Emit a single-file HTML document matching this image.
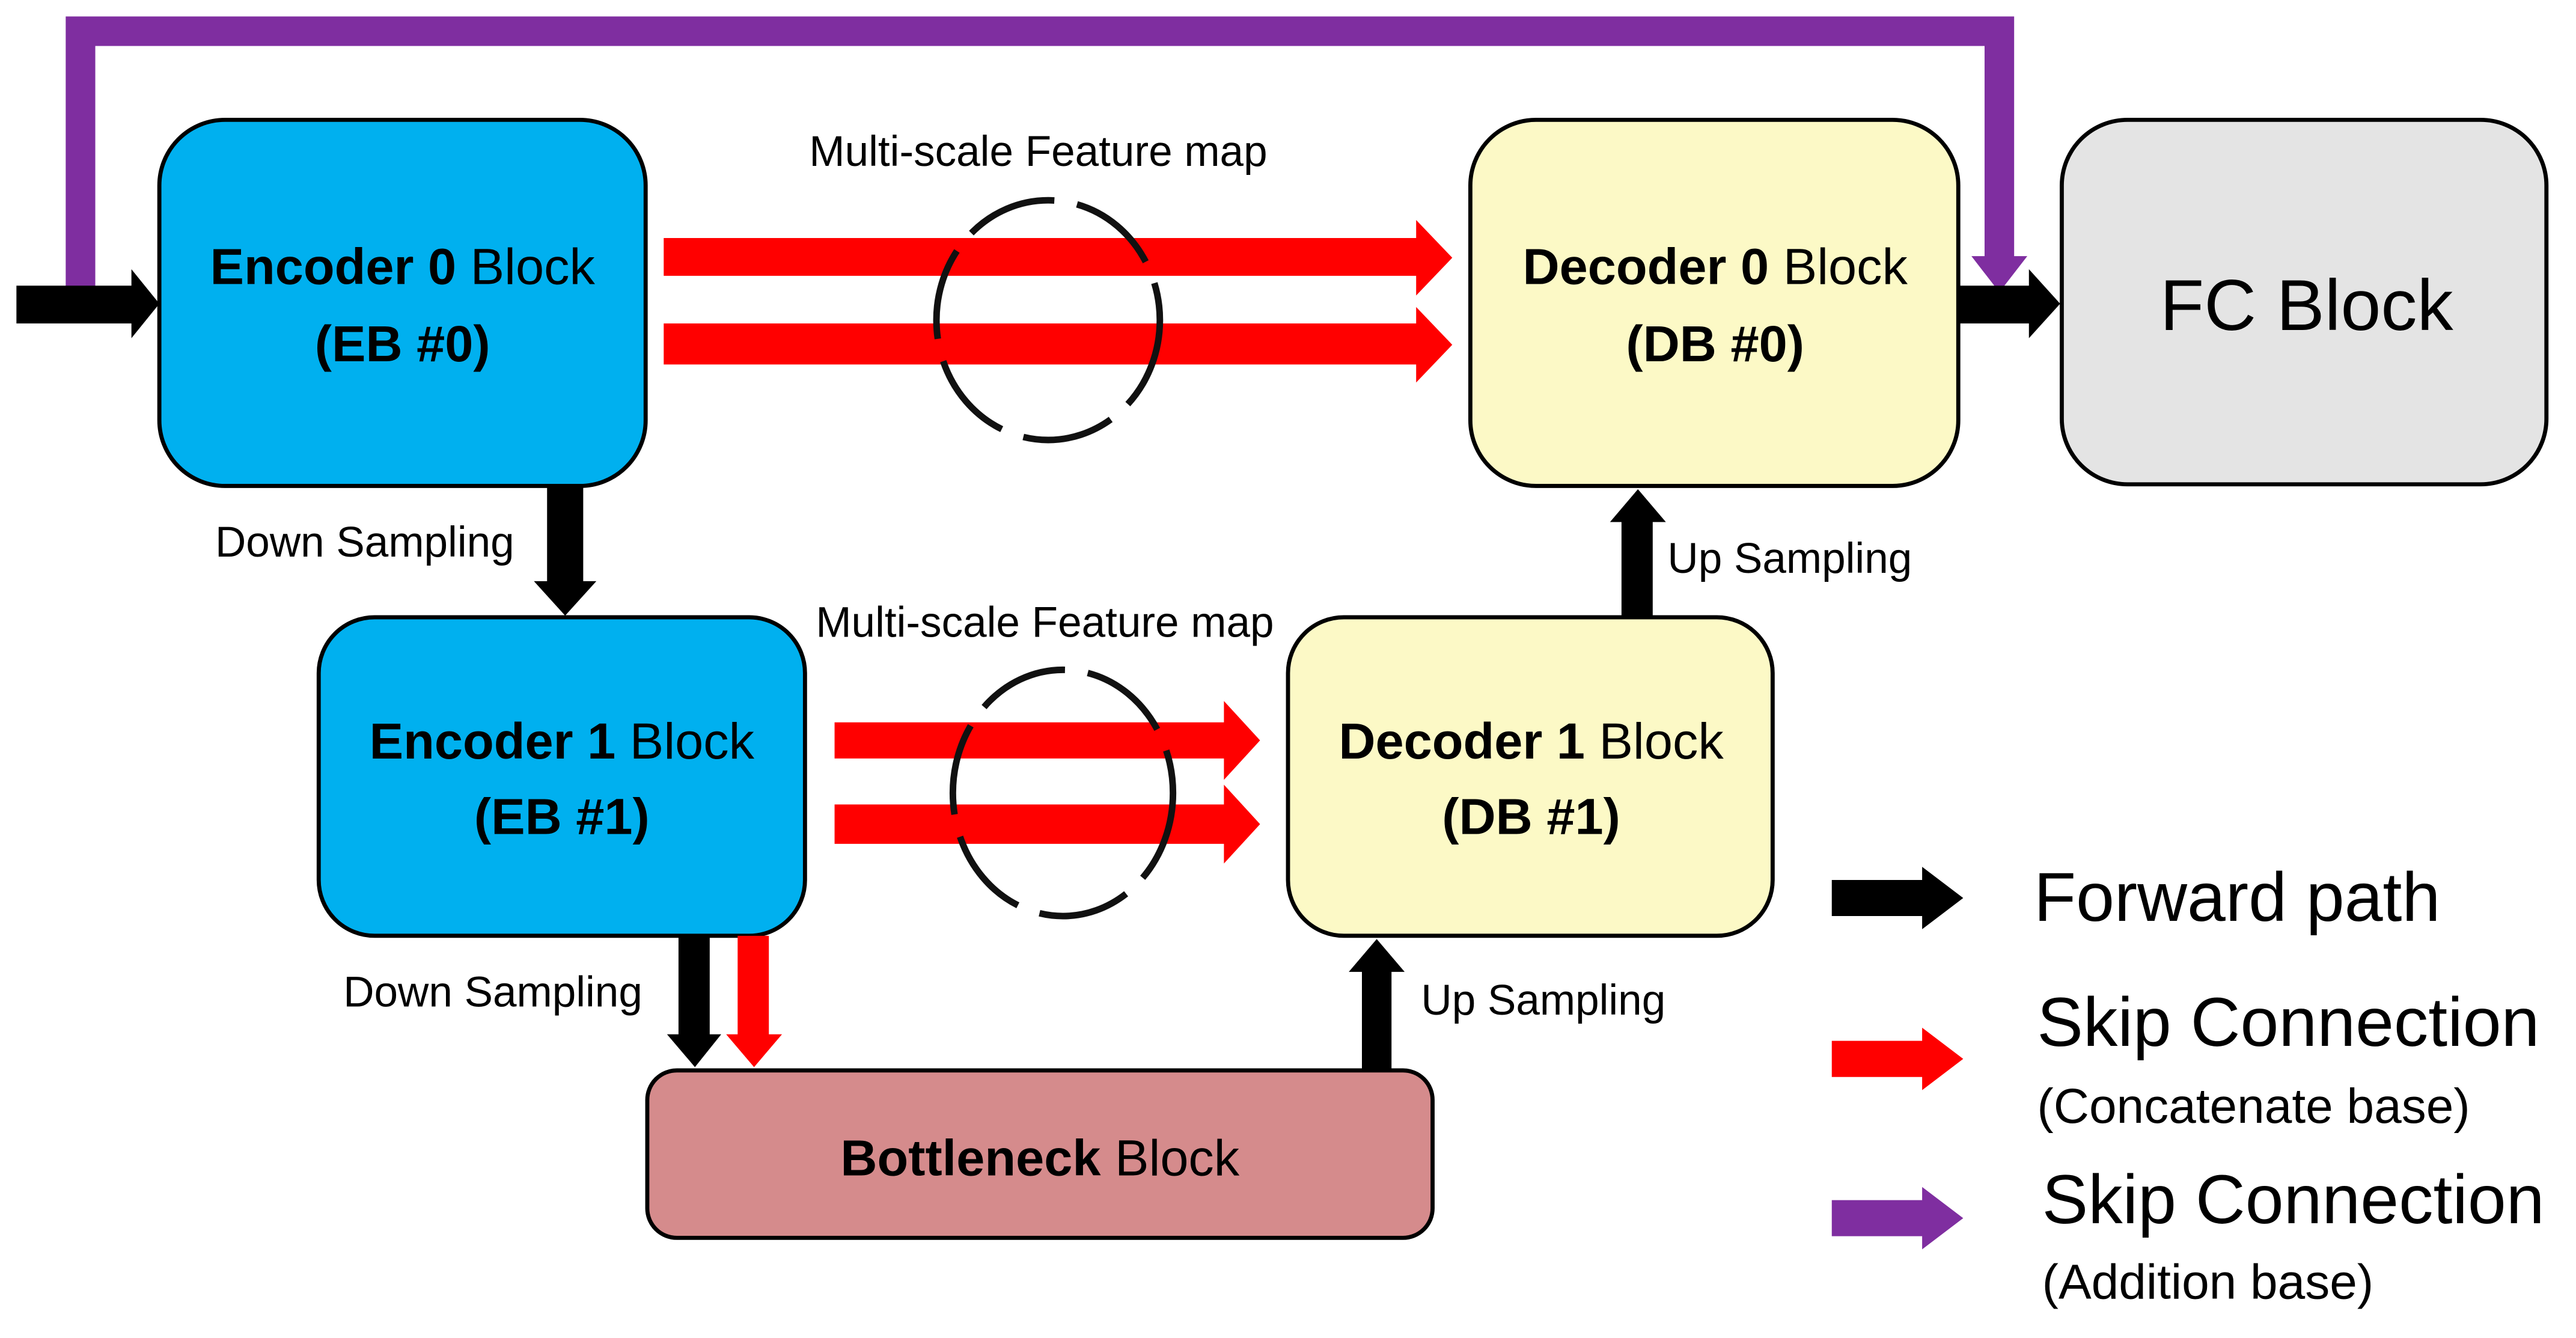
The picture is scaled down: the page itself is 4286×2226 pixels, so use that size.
<!DOCTYPE html>
<html><head><meta charset="utf-8">
<style>
html,body{margin:0;padding:0;background:#fff;}
svg{display:block;}
text{font-family:"Liberation Sans Narrow","Liberation Sans",sans-serif;fill:#000;}
.b{font-weight:bold;}
</style></head>
<body>
<svg width="4286" height="2226" viewBox="0 0 1568 815" preserveAspectRatio="none" xmlns="http://www.w3.org/2000/svg">
<rect x="0" y="0" width="1568" height="815" fill="#fff"/>
<path d="M40,178 L40,10 L1226,10 L1226,158 L1208,158 L1208,28 L58,28 L58,178 Z" fill="#7f2ea0"/>
<polygon points="1200,156 1234,156 1217,178" fill="#7f2ea0"/>
<polygon points="10,174 80,174 80,164 97,185 80,206 80,197 10,197" fill="#000"/>
<rect x="97" y="73" width="296" height="223" rx="40" fill="#00b0ef" stroke="#000" stroke-width="2.5"/>
<rect x="895" y="73" width="297" height="223" rx="40" fill="#fcf9c6" stroke="#000" stroke-width="2.5"/>
<rect x="1255" y="73" width="295" height="222" rx="40" fill="#e4e4e4" stroke="#000" stroke-width="2.5"/>
<rect x="194" y="376" width="296" height="194" rx="34" fill="#00b0ef" stroke="#000" stroke-width="2.5"/>
<rect x="784" y="376" width="295" height="194" rx="34" fill="#fcf9c6" stroke="#000" stroke-width="2.5"/>
<rect x="394" y="652" width="478" height="102" rx="18" fill="#d58b8c" stroke="#000" stroke-width="2.5"/>
<polygon points="404,145 862,145 862,134 884,157 862,180 862,168 404,168" fill="#ff0000"/>
<polygon points="404,197 862,197 862,187 884,210 862,233 862,222 404,222" fill="#ff0000"/>
<polygon points="508,440 745,440 745,427 767,451 745,475 745,462 508,462" fill="#ff0000"/>
<polygon points="508,490 745,490 745,478 767,502 745,526 745,514 508,514" fill="#ff0000"/>
<ellipse cx="638" cy="195" rx="68" ry="73" fill="none" stroke="#111" stroke-width="4" stroke-dasharray="56 14"/>
<ellipse cx="647" cy="483" rx="67" ry="75" fill="none" stroke="#111" stroke-width="4" stroke-dasharray="56 14"/>
<polygon points="1192,174 1235,174 1235,164 1254,185 1235,206 1235,197 1192,197" fill="#000"/>
<polygon points="333,296 355,296 355,354 363,354 344,375 325,354 333,354" fill="#000"/>
<polygon points="987,376 1006,376 1006,318 1014,318 997,298 980,318 987,318" fill="#000"/>
<polygon points="413,570 432,570 432,630 439,630 423,650 406,630 413,630" fill="#000"/>
<polygon points="449,570 468,570 468,630 476,630 459,650 442,630 449,630" fill="#ff0000"/>
<polygon points="829,652 847,652 847,592 855,592 838,572 821,592 829,592" fill="#000"/>
<polygon points="1115,536 1170,536 1170,528 1195,547 1170,566 1170,558 1115,558" fill="#000"/>
<polygon points="1115,634 1170,634 1170,626 1195,645 1170,664 1170,656 1115,656" fill="#ff0000"/>
<polygon points="1115,731 1170,731 1170,723 1195,742 1170,761 1170,753 1115,753" fill="#7f2ea0"/>
<g font-size="31" text-anchor="middle">
<text x="245" y="173"><tspan class="b">Encoder 0</tspan> Block</text>
<text x="245" y="220" class="b">(EB #0)</text>
<text x="1044" y="173"><tspan class="b">Decoder 0</tspan> Block</text>
<text x="1044" y="220" class="b">(DB #0)</text>
<text x="342" y="462"><tspan class="b">Encoder 1</tspan> Block</text>
<text x="342" y="508" class="b">(EB #1)</text>
<text x="932" y="462"><tspan class="b">Decoder 1</tspan> Block</text>
<text x="932" y="508" class="b">(DB #1)</text>
<text x="633" y="716"><tspan class="b">Bottleneck</tspan> Block</text>
</g>
<text x="1404" y="201" font-size="44" text-anchor="middle">FC Block</text>
<g font-size="26">
<text x="632" y="101" text-anchor="middle">Multi-scale Feature map</text>
<text x="636" y="388" text-anchor="middle">Multi-scale Feature map</text>
<text x="222" y="339" text-anchor="middle">Down Sampling</text>
<text x="300" y="613" text-anchor="middle">Down Sampling</text>
<text x="1015" y="349">Up Sampling</text>
<text x="865" y="618">Up Sampling</text>
</g>
<g font-size="42">
<text x="1238" y="561">Forward path</text>
<text x="1240" y="637">Skip Connection</text>
<text x="1243" y="745">Skip Connection</text>
</g>
<g font-size="30">
<text x="1240" y="684">(Concatenate base)</text>
<text x="1243" y="791">(Addition base)</text>
</g>
</svg>
</body></html>
